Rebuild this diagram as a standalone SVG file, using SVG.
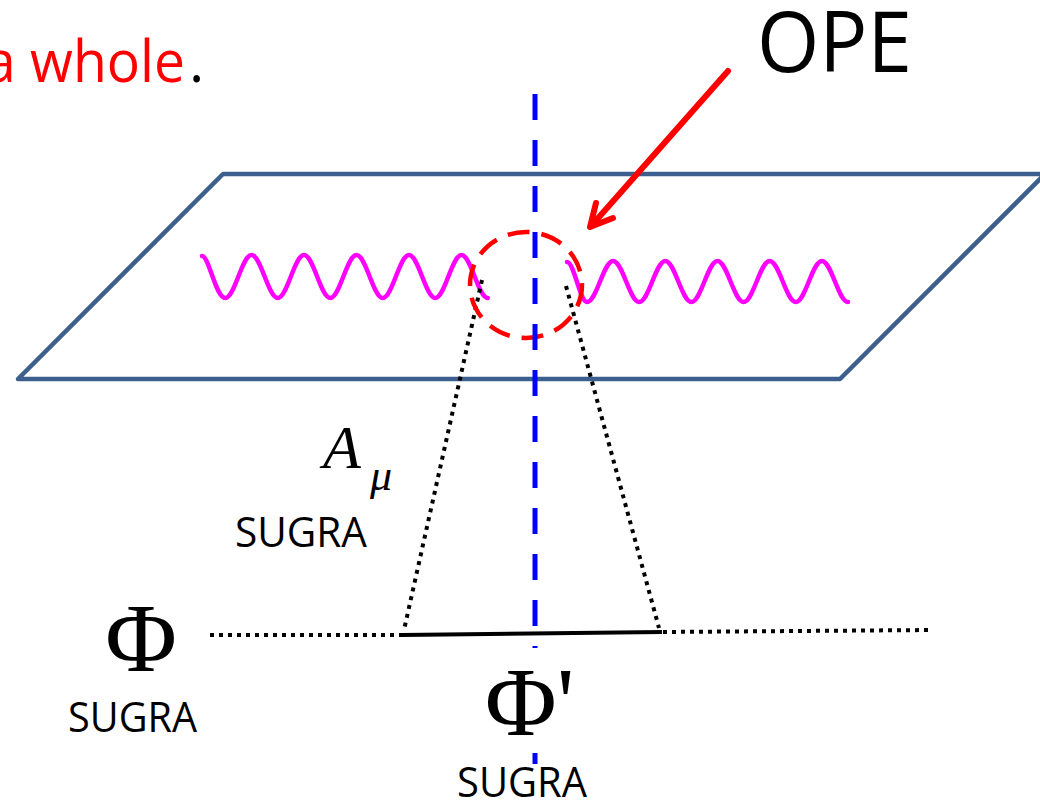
<svg xmlns="http://www.w3.org/2000/svg" width="1040" height="801" viewBox="0 0 1040 801">
<style>
.sans{font-family:"Open Sans","Liberation Sans",sans-serif;}
.serif{font-family:"Liberation Serif","DejaVu Serif",serif;}
.dot{fill:none;stroke:#000;stroke-width:4;stroke-dasharray:4 5;}
.wave{fill:none;stroke:#FF00FF;stroke-width:4.5;stroke-linecap:round;}
</style>
<rect width="1040" height="801" fill="#fff"/>
<g id="title">
<text class="sans" x="-15" y="82" font-size="58" fill="#FF0000" textLength="200" lengthAdjust="spacingAndGlyphs">a whole</text>
<text class="sans" x="189" y="82" font-size="58" fill="#000">.</text>
</g>
<g id="plane">
<polygon points="223,174 1045,174 840,379 18,379" fill="none" stroke="#3D5F8E" stroke-width="4.5" stroke-linejoin="round"/>
</g>
<g id="waves">
<path class="wave" d="M202,256 C209,256 215.7,298 225.25,298 C234.81,298 241.94,255 251.5,255 C261.06,255 268.19,298 277.75,298 C287.31,298 294.44,255 304,255 C313.56,255 320.69,298 330.25,298 C339.81,298 346.94,255 356.5,255 C366.06,255 373.19,298 382.75,298 C392.31,298 399.44,255 409,255 C418.56,255 425.69,298 435.25,298 C444.81,298 451.94,255 461.5,255 C471.06,255 478.19,298 487.75,298"/>
<path class="wave" d="M567,262 C574,262 580,302 587,302 C596.5,302 603.6,261 613.1,261 C622.6,261 629.7,302 639.2,302 C648.7,302 655.8,261 665.3,261 C674.8,261 681.9,302 691.4,302 C700.9,302 708,261 717.5,261 C727,261 734.1,302 743.6,302 C753.1,302 760.2,261 769.7,261 C779.2,261 786.3,302 795.8,302 C805.3,302 812.4,261 821.9,261 C831.4,261 838.5,302 848,302"/>
</g>
<g id="connectors">
<line class="dot" x1="482" y1="280" x2="404" y2="630"/>
<line class="dot" x1="566" y1="286" x2="659" y2="628"/>
<line class="dot" x1="210" y1="635" x2="402" y2="635"/>
<line class="dot" x1="663" y1="632" x2="933" y2="630"/>
<line x1="402" y1="635" x2="662" y2="632" stroke="#000" stroke-width="4"/>
</g>
<g id="ope-circle">
<ellipse cx="526" cy="285" rx="56" ry="53" fill="none" stroke="#FF0000" stroke-width="4.5" stroke-dasharray="22 12"/>
</g>
<g id="axis">
<line x1="535" y1="94" x2="535" y2="800" stroke="#0000FF" stroke-width="5" stroke-dasharray="26 20"/>
</g>
<g id="ope-arrow" fill="none" stroke="#FF0000" stroke-width="6" stroke-linecap="round" stroke-linejoin="round">
<line x1="728" y1="71" x2="592" y2="225"/>
<polyline points="596,203 590,227 613,218"/>
</g>
<g id="ope-label">
<text class="sans" x="757" y="72" font-size="84" fill="#000" textLength="155" lengthAdjust="spacingAndGlyphs">OPE</text>
</g>
<g id="phi-left">
<text class="serif" x="141" y="671" font-size="98" text-anchor="middle" fill="#000">Φ</text>
<text class="sans" x="68" y="732" font-size="42" fill="#000" textLength="129" lengthAdjust="spacingAndGlyphs">SUGRA</text>
</g>
<g id="a-mu">
<text class="serif" x="323" y="468" font-size="62" font-style="italic" fill="#000">A</text>
<text class="serif" x="370" y="490" font-size="44" font-style="italic" fill="#000">μ</text>
<text class="sans" x="235" y="547" font-size="42" fill="#000" textLength="132" lengthAdjust="spacingAndGlyphs">SUGRA</text>
</g>
<g id="phi-prime">
<rect x="478" y="648" width="112" height="105" fill="#fff"/>
<text class="serif" x="485" y="735" font-size="98" fill="#000">Φ'</text>
</g>
<g id="sugra-bottom">
<rect x="450" y="770" width="144" height="31" fill="#fff"/>
<text class="sans" x="457" y="797" font-size="42" fill="#000" textLength="130" lengthAdjust="spacingAndGlyphs">SUGRA</text>
</g>
</svg>
